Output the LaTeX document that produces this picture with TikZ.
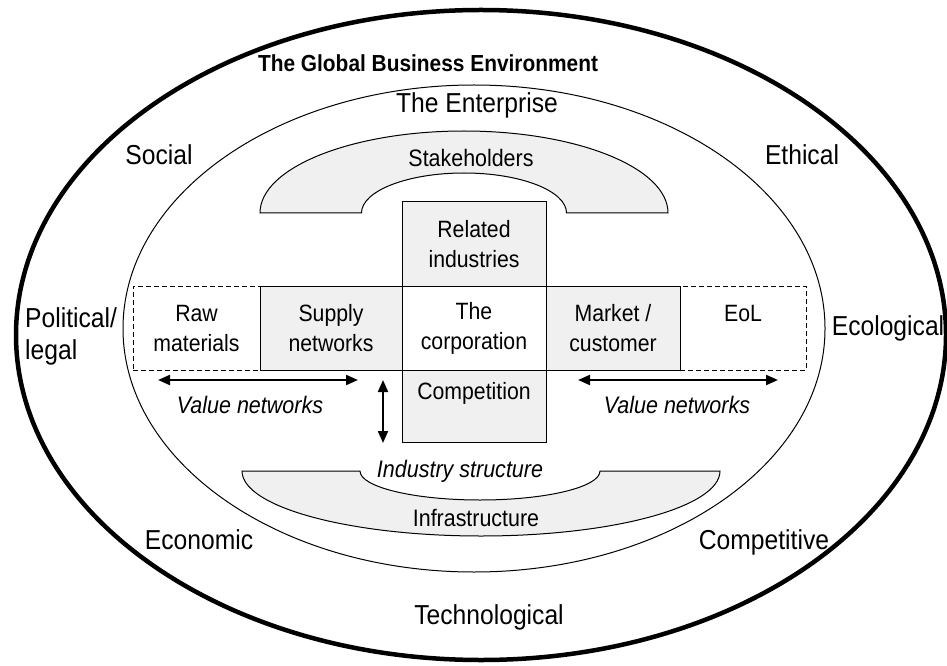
\documentclass[tikz,border=0pt]{standalone}
\usepackage{fontspec}
\setmainfont[FakeStretch=0.9]{Liberation Sans}
\usetikzlibrary{arrows.meta}
\definecolor{boxgray}{HTML}{F0F0F0}
\begin{document}
\begin{tikzpicture}[x=1pt,y=1pt,
  cell/.style={draw, line width=1pt, minimum height=84pt, inner sep=0pt, outer sep=0pt,
    align=center, font=\fontsize{23.6}{30}\selectfont},
  dashcell/.style={cell, dash pattern=on 5pt off 3pt},
  graycell/.style={cell, fill=boxgray},
  envlabel/.style={font=\fontsize{27.4}{32}\selectfont, anchor=base, inner sep=0pt},
  itlabel/.style={font=\fontsize{23.9}{28}\selectfont\itshape, anchor=base, inner sep=0pt},
  archlabel/.style={font=\fontsize{23.8}{28}\selectfont, anchor=base, inner sep=0pt},
  arch/.style={draw, fill=boxgray, line width=1pt},
  dbl/.style={line width=2pt, {Triangle[length=12pt,width=10pt]}-{Triangle[length=12pt,width=10pt]}},
]
\useasboundingbox (0,0) rectangle (947,665);
\fill[white] (0,0) rectangle (947,665);

% ellipses
\draw[line width=4.5pt] (481,330) ellipse[x radius=465, y radius=325];
\draw[line width=1pt] (474,336.5) ellipse[x radius=351, y radius=243.5];

% arches
\draw[arch] (260,452) arc[start angle=180, end angle=0, x radius=204, y radius=82]
  -- (566.5,452) arc[start angle=0, end angle=180, x radius=102.5, y radius=40] -- cycle;
\draw[arch] (242,194) -- (360,194) arc[start angle=180, end angle=360, x radius=120, y radius=29]
  -- (720,194) arc[start angle=0, end angle=-180, x radius=239, y radius=65] -- cycle;

% cells
\node[dashcell, minimum width=127pt] (raw) at (196.5,337) {Raw\\materials};
\node[dashcell, minimum width=126pt] (eol) at (743,337) {EoL\\\mbox{}};
\node[graycell, minimum width=142pt] (supply) at (331,337) {Supply\\networks};
\node[graycell, minimum width=134pt] (market) at (613,337) {Market /\\customer};
\node[cell, minimum width=144pt] (corp) at (474,337) {The\\corporation};
\node[graycell, minimum width=144pt] (related) at (474,421) {Related\\industries};
\node[graycell, minimum width=144pt, minimum height=72pt] (comp) at (474,259) {Competition\\\mbox{}};

% arrows
\coordinate (vl1) at (158,285);
\coordinate (vl2) at (358,285);
\coordinate (vr1) at (578,285);
\coordinate (vr2) at (778,285);
\coordinate (is1) at (383,285);
\coordinate (is2) at (383,222);
\draw[dbl] (vl1) -- (vl2);
\draw[dbl] (vr1) -- (vr2);
\draw[dbl] (is1) -- (is2);

% labels
\node[itlabel] (vnl) at (250,252) {Value networks};
\node[itlabel] (vnr) at (677,252) {Value networks};
\node[itlabel] (ind) at (460,188) {Industry structure};
\node[archlabel] (stake) at (471,498) {Stakeholders};
\node[archlabel] (infra) at (476,139) {Infrastructure};

\node[font=\fontsize{23.2}{28}\selectfont\bfseries, anchor=base, inner sep=0pt] (title) at (428,593) {The Global Business Environment};
\node[envlabel] (ent) at (477,552) {The Enterprise};
\node[envlabel] (soc) at (159,500) {Social};
\node[envlabel] (eth) at (802,500) {Ethical};
\node[envlabel, anchor=base west] (pol) at (25,338) {Political/};
\node[envlabel, anchor=base west] (leg) at (25,306) {legal};
\node[envlabel] (eco) at (888,330) {Ecological};
\node[envlabel] (econ) at (199,116) {Economic};
\node[envlabel] (compet) at (764,116) {Competitive};
\node[envlabel] (tech) at (489,41) {Technological};
\end{tikzpicture}
\end{document}
